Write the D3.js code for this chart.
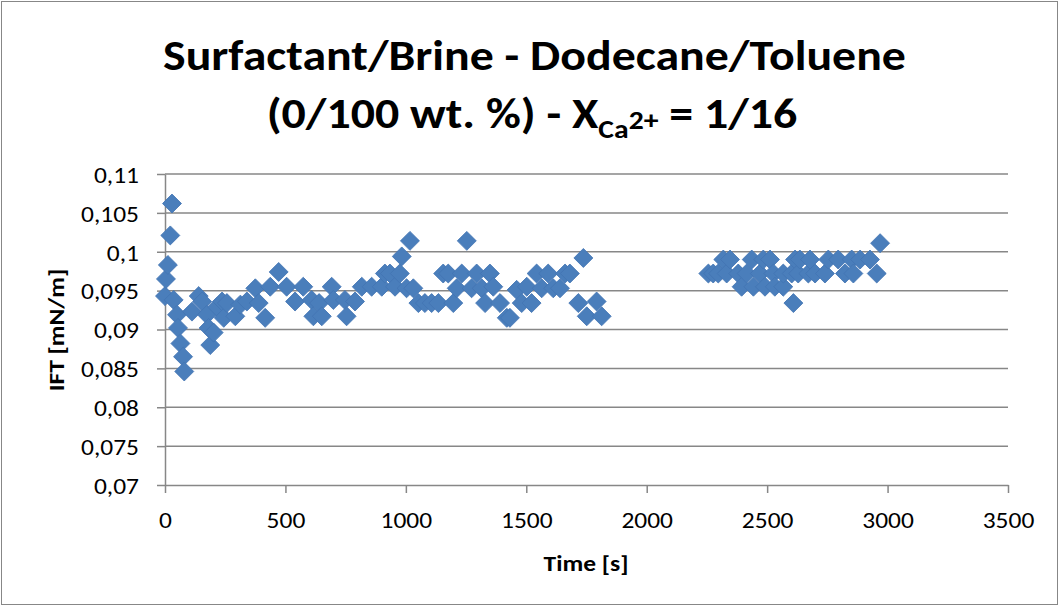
<!DOCTYPE html>
<html>
<head>
<meta charset="utf-8">
<script src="https://cdn.jsdelivr.net/npm/d3@7"></script>
<style>
  html, body { margin: 0; padding: 0; background: #fff; }
  svg { display: block; }
  text { font-family: Carlito, Calibri, Lato, "Open Sans", sans-serif; fill: #000; }
</style>
</head>
<body>
<svg id="chart" width="1062" height="608"></svg>
<script>
// ---- data ----
const timeS = [
  0, 4, 12, 22, 29, 36, 50, 54, 64, 75, 80, 112, 140, 154, 174, 181, 188, 202, 216, 237,
  244, 257, 292, 313, 340, 375, 389, 416, 437, 472, 505, 540, 574, 609, 616, 640, 651, 692, 699, 747,
  754, 789, 817, 858, 900, 913, 934, 955, 975, 983, 1003, 1017, 1031, 1052, 1079, 1107, 1135, 1155, 1176, 1197,
  1211, 1232, 1253, 1273, 1294, 1315, 1329, 1349, 1363, 1391, 1419, 1432, 1460, 1481, 1502, 1522, 1543, 1564, 1591, 1612,
  1640, 1661, 1681, 1716, 1737, 1751, 1792, 1813,
  2256, 2276, 2297, 2318, 2332, 2346, 2380, 2394, 2415, 2436, 2443, 2470, 2484, 2491, 2512, 2526, 2532, 2567, 2567, 2602,
  2609, 2616, 2629, 2636, 2671, 2678, 2699, 2740, 2754, 2795, 2823, 2851, 2858, 2886, 2927, 2955, 2969
];
const ift = [
  0.0943, 0.0965, 0.0983, 0.1021, 0.1062, 0.0938, 0.0919, 0.0902, 0.0882, 0.0865, 0.0846, 0.0923, 0.0943, 0.0936, 0.0919, 0.0902, 0.0880, 0.0896, 0.0929, 0.0936,
  0.0915, 0.0934, 0.0917, 0.0932, 0.0936, 0.0953, 0.0934, 0.0915, 0.0955, 0.0974, 0.0955, 0.0936, 0.0955, 0.0938, 0.0917, 0.0934, 0.0917, 0.0955, 0.0938, 0.0938,
  0.0917, 0.0936, 0.0955, 0.0955, 0.0955, 0.0972, 0.0972, 0.0955, 0.0972, 0.0994, 0.0953, 0.1014, 0.0953, 0.0934, 0.0934, 0.0934, 0.0934, 0.0972, 0.0972, 0.0934,
  0.0953, 0.0972, 0.1014, 0.0953, 0.0972, 0.0953, 0.0934, 0.0972, 0.0955, 0.0934, 0.0915, 0.0915, 0.0951, 0.0934, 0.0955, 0.0934, 0.0972, 0.0953, 0.0972, 0.0953,
  0.0953, 0.0972, 0.0972, 0.0934, 0.0992, 0.0917, 0.0936, 0.0917,
  0.0972, 0.0972, 0.0972, 0.0990, 0.0972, 0.0990, 0.0972, 0.0955, 0.0972, 0.0990, 0.0955, 0.0972, 0.0990, 0.0955, 0.0990, 0.0972, 0.0955, 0.0955, 0.0972, 0.0972,
  0.0934, 0.0990, 0.0972, 0.0990, 0.0972, 0.0990, 0.0972, 0.0972, 0.0990, 0.0990, 0.0972, 0.0990, 0.0972, 0.0990, 0.0990, 0.0972, 0.1011
];
const xTickValues = [0, 500, 1000, 1500, 2000, 2500, 3000, 3500];
const xTickLabels = ["0", "500", "1000", "1500", "2000", "2500", "3000", "3500"];
const yTickValues = [0.07, 0.075, 0.08, 0.085, 0.09, 0.095, 0.1, 0.105, 0.11];
const yTickLabels = ["0,07", "0,075", "0,08", "0,085", "0,09", "0,095", "0,1", "0,105", "0,11"];
const titleLine1 = "Surfactant/Brine - Dodecane/Toluene";
const titleLine2Main = "(0/100 wt. %) - X";
const titleSub = "Ca";
const titleSup = "2+";
const titleLine2End = " = 1/16";
const xTitle = "Time [s]";
const yTitle = "IFT [mN/m]";

// ---- layout ----
const W = 1062, H = 608;
const plot = { left: 165, right: 1008, top: 174, bottom: 485 };
const gridColor = "#878787";
const markerColor = "#4a7ebb";
const FONT = "Carlito, Calibri, Lato, 'Open Sans', sans-serif";

const svg = d3.select("#chart");
svg.append("rect").attr("width", W).attr("height", H).attr("fill", "#fff");
svg.append("rect")
  .attr("x", 1.5).attr("y", 1.5).attr("width", 1056).attr("height", 603)
  .attr("fill", "none").attr("stroke", gridColor).attr("stroke-width", 1);

// horizontal squeeze factor so text of a given size spans the target width
function squeeze(str, weight, size, target) {
  const t = svg.append("text").attr("font-size", size).attr("font-weight", weight).text(str);
  const w = t.node().getComputedTextLength();
  t.remove();
  return target / w;
}

const tickSize = 23;
const tickSx = squeeze("0,105", "normal", tickSize, 58);
const titleSize = 42;
const titleSx = squeeze(titleLine1, "bold", titleSize, 743);
const axisTitleSize = 23;
const axisTitleSx = squeeze(xTitle, "bold", axisTitleSize, 85);

const x = d3.scaleLinear().domain([0, 3500]).range([plot.left, plot.right]);
const y = d3.scaleLinear().domain([0.07, 0.11]).range([plot.bottom, plot.top]);

// gridlines
svg.append("g").selectAll("line").data(yTickValues.slice(1)).join("line")
  .attr("x1", plot.left).attr("x2", plot.right)
  .attr("y1", d => y(d)).attr("y2", d => y(d))
  .attr("stroke", gridColor).attr("stroke-width", 1.5);

// axes
const yAxis = d3.axisLeft(y).tickValues(yTickValues)
  .tickFormat((d, i) => yTickLabels[i]).tickSize(8).tickSizeOuter(0).tickPadding(18);
const gy = svg.append("g").attr("transform", `translate(${plot.left},0)`).call(yAxis);
const xAxis = d3.axisBottom(x).tickValues(xTickValues)
  .tickFormat((d, i) => xTickLabels[i]).tickSize(8).tickSizeOuter(0).tickPadding(18);
const gx = svg.append("g").attr("transform", `translate(0,${plot.bottom})`).call(xAxis);
[gx, gy].forEach(g => {
  g.select(".domain").attr("stroke", gridColor).attr("stroke-width", 1.5);
  g.selectAll(".tick line").attr("stroke", gridColor).attr("stroke-width", 1.5);
  g.selectAll(".tick text").attr("font-size", tickSize)
    .attr("font-family", FONT).attr("fill", "#000");
});
gy.selectAll(".tick text").attr("x", 0).attr("dy", "0.36em")
  .attr("transform", `translate(-26,0) scale(${tickSx},1)`);
gx.selectAll(".tick text").attr("dy", "0.71em").attr("y", 27)
  .attr("transform", `scale(${tickSx},1)`);

// markers
const pts = timeS.map((t, i) => ({ t, v: ift[i] }));
const diamond = d3.symbol(d3.symbolSquare, 180)();
svg.append("g").selectAll("path").data(pts).join("path")
  .attr("d", diamond)
  .attr("transform", d => `translate(${x(d.t)},${y(d.v)}) rotate(45)`)
  .attr("fill", markerColor).attr("stroke", "#4375b3").attr("stroke-width", 0.8);

// title
svg.append("text").attr("transform", `translate(534.5,70) scale(${titleSx},1)`)
  .attr("text-anchor", "middle")
  .attr("font-size", titleSize).attr("font-weight", "bold").text(titleLine1);
const t2 = svg.append("text").attr("transform", `translate(532,128) scale(${titleSx},1)`)
  .attr("text-anchor", "middle")
  .attr("font-size", titleSize).attr("font-weight", "bold");
t2.append("tspan").text(titleLine2Main);
t2.append("tspan").attr("font-size", titleSize * 0.62).attr("dy", 10).text(titleSub);
t2.append("tspan").attr("font-size", titleSize * 0.62).attr("dy", -9).text(titleSup);
t2.append("tspan").attr("dy", -1).text(titleLine2End);

// axis titles
svg.append("text").attr("transform", `translate(586,571) scale(${axisTitleSx},1)`)
  .attr("text-anchor", "middle")
  .attr("font-size", axisTitleSize).attr("font-weight", "bold").text(xTitle);
svg.append("text").attr("transform", `translate(64,330) rotate(-90) scale(${axisTitleSx},1)`)
  .attr("text-anchor", "middle").attr("font-size", axisTitleSize).attr("font-weight", "bold").text(yTitle);
</script>
</body>
</html>
